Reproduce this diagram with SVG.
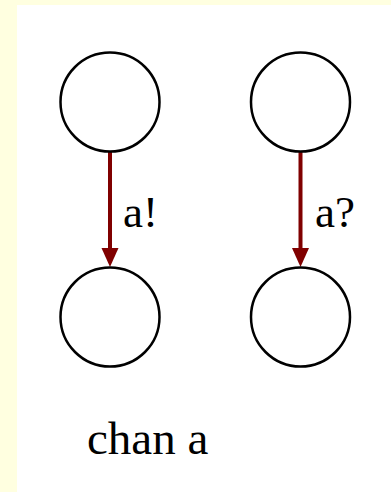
<svg xmlns="http://www.w3.org/2000/svg" width="391" height="492" viewBox="0 0 391 492">
<style>
.state{fill:#fff;stroke:#000;stroke-width:2.5}
.edge{stroke:#800000;stroke-width:4;fill:none}
.lbl{font-family:"Liberation Serif","Times New Roman",serif;font-size:45px;fill:#000}
.big{font-size:47px}
</style>
<rect x="0" y="0" width="391" height="492" fill="#FFFFE0"/>
<rect x="17" y="5" width="374" height="487" fill="#fff"/>
<g id="connectors">
<path class="edge" d="M110,152 L110,250"/>
<polygon points="101.5,248 118.5,248 110,267" fill="#800000"/>
<path class="edge" d="M300.5,152 L300.5,250"/>
<polygon points="292,248 309,248 300.5,267" fill="#800000"/>
</g>
<g id="s1"><circle class="state" cx="110" cy="102" r="49.5"/></g>
<g id="s2"><circle class="state" cx="110" cy="317" r="49.5"/></g>
<g id="s3"><circle class="state" cx="300.5" cy="102" r="49.5"/></g>
<g id="s4"><circle class="state" cx="300.5" cy="317" r="49.5"/></g>
<g id="labels">
<text class="lbl" x="123" y="227">a!</text>
<text class="lbl" x="315" y="227">a?</text>
<text class="lbl big" x="87" y="454">chan a</text>
</g>
</svg>
